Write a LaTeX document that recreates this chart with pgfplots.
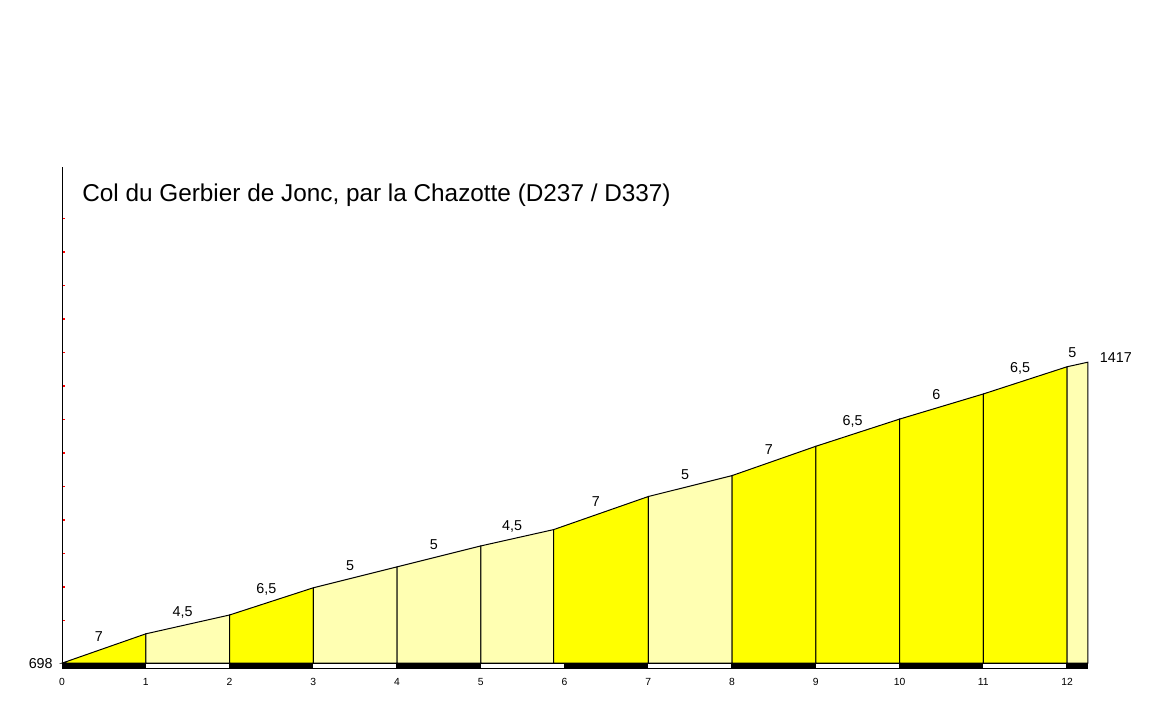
\documentclass[border=0pt]{standalone}
\usepackage{pgfplots}
\pgfplotsset{compat=1.18}
\usepackage{fontspec}
\setmainfont{Liberation Sans}
\definecolor{hiy}{RGB}{255,255,0}
\definecolor{loy}{RGB}{255,255,178}
\begin{document}
\begin{tikzpicture}
\path[use as bounding box] (0,0) rectangle (690pt,432pt);
\begin{axis}[
  at={(37.2pt,30.6pt)}, anchor=south west,
  scale only axis, x=50.25pt, y=0.25116pt,
  xmin=0, xmax=12.3, ymin=684, ymax=1883,
  clip=false,
  /pgf/number format/assume math mode=true,
  axis x line*=bottom, x axis line style={draw=none},
  axis y line*=left, y axis line style={black, line width=0.6pt},
  xtick={0,...,12}, major x tick style={draw=none},
  xticklabel style={font=\fontsize{6.2}{7}\selectfont, anchor=center, yshift=-7.8pt},
  ytick={800,880,...,1760}, yticklabels={},
  y tick style={red}, major y tick style={red, line width=0.9pt}, major tick length=2pt,
  tick align=inside,
]
% profile segments
\addplot[fill=hiy, draw=black, line width=0.6pt] coordinates {(0,698)(0,698)(1,768)(1,698)} -- cycle;
\addplot[fill=loy, draw=black, line width=0.6pt] coordinates {(1,698)(1,768)(2,813)(2,698)} -- cycle;
\addplot[fill=hiy, draw=black, line width=0.6pt] coordinates {(2,698)(2,813)(3,878)(3,698)} -- cycle;
\addplot[fill=loy, draw=black, line width=0.6pt] coordinates {(3,698)(3,878)(4,928)(4,698)} -- cycle;
\addplot[fill=loy, draw=black, line width=0.6pt] coordinates {(4,698)(4,928)(5,978)(5,698)} -- cycle;
\addplot[fill=loy, draw=black, line width=0.6pt] coordinates {(5,698)(5,978)(5.87,1017)(5.87,698)} -- cycle;
\addplot[fill=hiy, draw=black, line width=0.6pt] coordinates {(5.87,698)(5.87,1017)(7,1096)(7,698)} -- cycle;
\addplot[fill=loy, draw=black, line width=0.6pt] coordinates {(7,698)(7,1096)(8,1146)(8,698)} -- cycle;
\addplot[fill=hiy, draw=black, line width=0.6pt] coordinates {(8,698)(8,1146)(9,1216)(9,698)} -- cycle;
\addplot[fill=hiy, draw=black, line width=0.6pt] coordinates {(9,698)(9,1216)(10,1281)(10,698)} -- cycle;
\addplot[fill=hiy, draw=black, line width=0.6pt] coordinates {(10,698)(10,1281)(11,1341)(11,698)} -- cycle;
\addplot[fill=hiy, draw=black, line width=0.6pt] coordinates {(11,698)(11,1341)(12,1406)(12,698)} -- cycle;
\addplot[fill=loy, draw=black, line width=0.6pt] coordinates {(12,698)(12,1406)(12.25,1417)(12.25,698)} -- cycle;
% km strip
\addplot[fill=black, draw=none] coordinates {(0,684)(12.25,684)(12.25,698)(0,698)} -- cycle;
\addplot[fill=white, draw=none] coordinates {(1,686.6)(1.99,686.6)(1.99,696.3)(1,696.3)} -- cycle;
\addplot[fill=white, draw=none] coordinates {(3,686.6)(3.99,686.6)(3.99,696.3)(3,696.3)} -- cycle;
\addplot[fill=white, draw=none] coordinates {(5,686.6)(5.99,686.6)(5.99,696.3)(5,696.3)} -- cycle;
\addplot[fill=white, draw=none] coordinates {(7,686.6)(7.99,686.6)(7.99,696.3)(7,696.3)} -- cycle;
\addplot[fill=white, draw=none] coordinates {(9,686.6)(9.99,686.6)(9.99,696.3)(9,696.3)} -- cycle;
\addplot[fill=white, draw=none] coordinates {(11,686.6)(11.99,686.6)(11.99,696.3)(11,696.3)} -- cycle;
% gradient labels
\addplot[draw=none, mark=none, nodes near coords, point meta=explicit symbolic,
  nodes near coords style={anchor=center, yshift=7pt, xshift=-3pt, font=\fontsize{8.6}{10}\selectfont}]
  coordinates {(0.5,733)[7] (1.5,790.5)[{4,5}] (2.5,845.5)[{6,5}] (3.5,903)[5] (4.5,953)[5]
  (5.435,997.5)[{4,5}] (6.435,1056.5)[7] (7.5,1121)[5] (8.5,1181)[7] (9.5,1248.5)[{6,5}]
  (10.5,1311)[6] (11.5,1373.5)[{6,5}] (12.125,1411.5)[5]};
% start and summit altitudes
\addplot[draw=none, mark=none, nodes near coords, point meta=explicit symbolic,
  nodes near coords style={anchor=east, inner sep=0pt, xshift=-5.4pt, font=\fontsize{8.6}{10}\selectfont}]
  coordinates {(0,698)[698]};
\addplot[draw=none, mark=none, nodes near coords, point meta=explicit symbolic,
  nodes near coords style={anchor=west, inner sep=0pt, xshift=7pt, yshift=2.5pt, font=\fontsize{8.6}{10}\selectfont}]
  coordinates {(12.25,1417)[1417]};
\end{axis}
\node[anchor=west, inner sep=0pt, font=\fontsize{14.6}{17}\selectfont] at (49.2pt,315pt) {Col du Gerbier de Jonc, par la Chazotte (D237 / D337)};
\end{tikzpicture}
\end{document}
